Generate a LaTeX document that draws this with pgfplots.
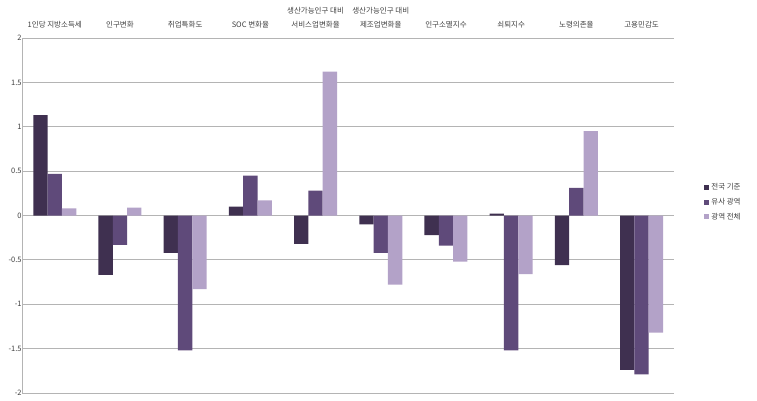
\documentclass[border=0pt]{standalone}
\usepackage{pgfplots}
\pgfplotsset{compat=1.18}
\usepackage{fontspec}
\setmainfont{Noto Sans CJK KR}
\definecolor{c1}{HTML}{3F3050}
\definecolor{c2}{HTML}{5F4A7A}
\definecolor{c3}{HTML}{B3A2C8}
\definecolor{gridc}{HTML}{B4B4B4}
\definecolor{txt}{HTML}{404040}
\pgfplotstableread{
x a b c
0 1.13 0.47 0.08
1 -0.67 -0.33 0.09
2 -0.42 -1.52 -0.83
3 0.10 0.45 0.17
4 -0.32 0.28 1.62
5 -0.10 -0.42 -0.78
6 -0.22 -0.34 -0.52
7 0.02 -1.52 -0.66
8 -0.56 0.31 0.95
9 -1.74 -1.79 -1.32
}\datatable
\begin{document}
\begin{tikzpicture}[x=1pt,y=1pt]
\useasboundingbox (0,0) rectangle (757,401);
\begin{axis}[
  at={(34,9)}, anchor=south west,
  scale only axis, width=652pt, height=355pt,
  ymin=-2, ymax=2, xmin=-0.5, xmax=9.5,
  ytick={-2,-1.5,-1,-0.5,0,0.5,1,1.5,2},
  yticklabels={-2,-1.5,-1,-0.5,0,0.5,1,1.5,2},
  yticklabel style={font=\fontsize{7.5}{8}\selectfont, text=txt, xshift=3pt},
  ymajorgrids, grid style={gridc, line width=1pt},
  separate axis lines,
  axis y line*=left,
  y axis line style={gridc, line width=1pt, -},
  x axis line style={draw=none},
  major tick length=0pt,
  xtick={0,...,9},
  xticklabels={1인당 지방소득세, 인구변화, 취업특화도, SOC 변화율, 생산가능인구 대비\\서비스업변화율, 생산가능인구 대비\\제조업변화율, 인구소멸지수, 쇠퇴지수, 노령의존율, 고용민감도},
  xticklabel pos=upper,
  xticklabel style={align=center, anchor=south, font=\fontsize{7.5}{14}\selectfont, text=txt, yshift=6pt},
  ybar=0pt, bar width=0.22,
  legend style={at={(1.046,0.538)}, anchor=west, draw=none, fill=none, font=\fontsize{7.5}{8}\selectfont, text=txt, row sep=3pt, inner sep=0pt},
  legend cell align=left,
  legend image code/.code={\fill[#1] (0pt,-2.5pt) rectangle (5pt,2.5pt);},
]
\addplot[fill=c1, draw=none] table[x=x, y=a] {\datatable};
\addplot[fill=c2, draw=none] table[x=x, y=b] {\datatable};
\addplot[fill=c3, draw=none] table[x=x, y=c] {\datatable};
\legend{전국 기준, 유사 광역, 광역 전체}
\end{axis}
\end{tikzpicture}
\end{document}
